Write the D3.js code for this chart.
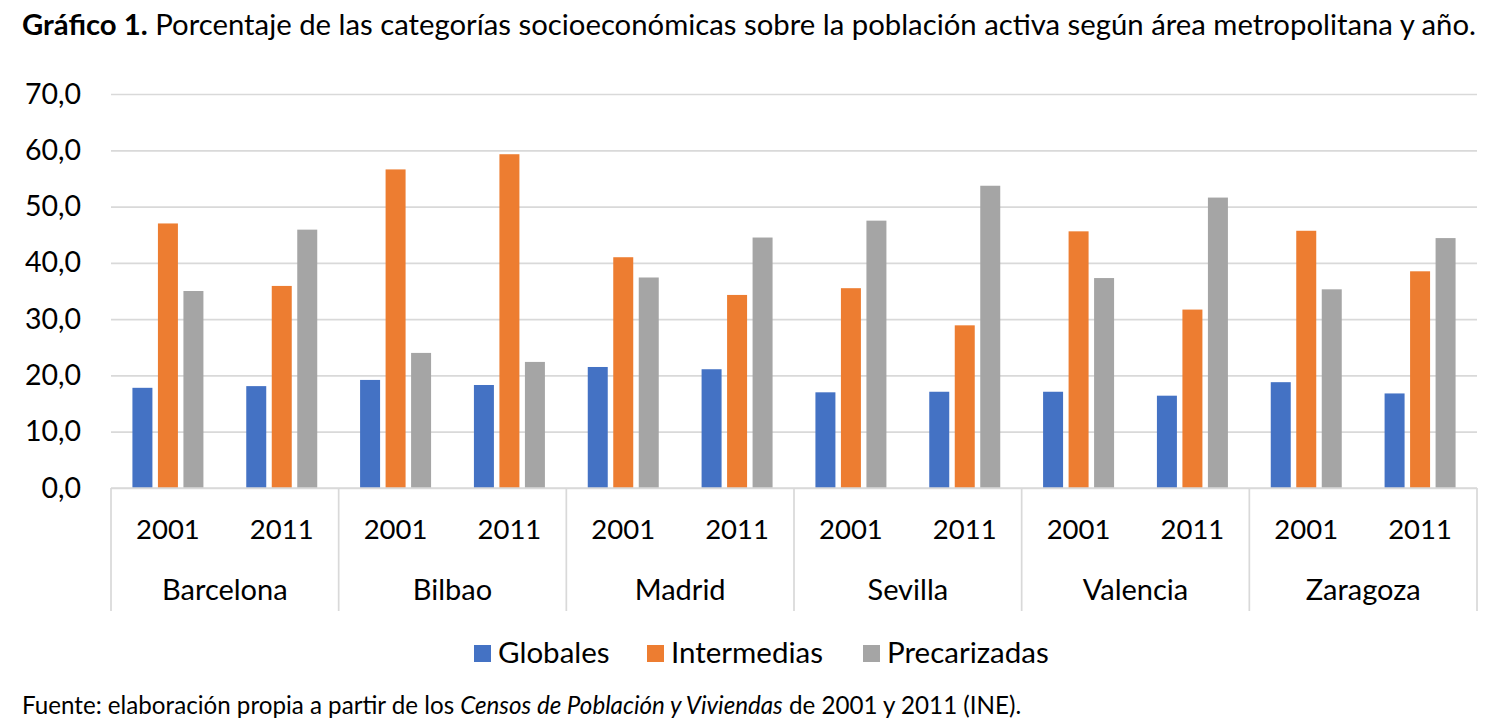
<!DOCTYPE html>
<html>
<head>
<meta charset="utf-8">
<script src="https://cdn.jsdelivr.net/npm/d3@7"></script>
<style>
  body { margin: 0; background: #fff; }
  svg { display: block; font-family: Lato, "Open Sans", sans-serif; }
  .grid line { stroke: #d9d9d9; stroke-width: 1.7; }
  .grid text { fill: #000; font-size: 28.5px; font-family: Lato, "Open Sans", sans-serif; }
  .cat text { fill: #000; }
  .cat .year { font-size: 27.5px; }
  .cat .city { font-size: 29px; }
</style>
</head>
<body>
<script>
var w = 1499;
var h = 728;

var cities = ["Barcelona", "Bilbao", "Madrid", "Sevilla", "Valencia", "Zaragoza"];
var years = ["2001", "2011"];
var series = ["Globales", "Intermedias", "Precarizadas"];
var colors = ["#4472c4", "#ed7d31", "#a5a5a5"];
var yTicks = [0, 10, 20, 30, 40, 50, 60, 70];

// one entry per city, 2001 then 2011
var globales     = [[17.8, 18.1], [19.2, 18.3], [21.5, 21.1], [17.0, 17.1], [17.1, 16.4], [18.8, 16.8]];
var intermedias  = [[47.0, 35.9], [56.6, 59.3], [41.0, 34.3], [35.5, 28.9], [45.6, 31.7], [45.7, 38.5]];
var precarizadas = [[35.0, 45.9], [24.0, 22.4], [37.4, 44.5], [47.5, 53.7], [37.3, 51.6], [35.3, 44.4]];

var values = [globales, intermedias, precarizadas];

var plotLeft = 111, plotRight = 1477, plotTop = 94, plotBottom = 488;

var svg = d3.select("body")
  .append("svg")
  .attr("width", w)
  .attr("height", h);

function fit(sel, target) {
  var len = sel.node().getComputedTextLength();
  var size = parseFloat(sel.style("font-size"));
  sel.style("font-size", (size * target / len) + "px");
}

// title
var title = svg.append("text")
  .attr("x", 22)
  .attr("y", 35)
  .attr("fill", "#000")
  .style("font-size", "24px");
title.append("tspan").attr("font-weight", "bold").text("Gráfico 1.");
title.append("tspan").text(" Porcentaje de las categorías socioeconómicas sobre la población activa según área metropolitana y año.");
fit(title, 1455);

var xCity = d3.scaleBand()
  .domain(cities)
  .range([plotLeft, plotRight]);

var xYear = d3.scaleBand()
  .domain(years)
  .range([0, xCity.bandwidth()]);

var xSeries = d3.scaleBand()
  .domain(series)
  .range([0, xYear.bandwidth()])
  .paddingInner(0.216)
  .paddingOuter(0.84);

var yScale = d3.scaleLinear()
  .domain([0, 70])
  .range([plotBottom, plotTop]);

var yAxis = d3.axisLeft(yScale)
  .tickValues(yTicks)
  .tickSize(-(plotRight - plotLeft))
  .tickPadding(30)
  .tickFormat(function(d) { return d.toFixed(1).replace(".", ","); });

svg.append("g")
  .attr("class", "grid")
  .attr("transform", "translate(" + plotLeft + ",0)")
  .call(yAxis)
  .call(function(g) { g.select(".domain").remove(); });

// bars
var rows = [];
cities.forEach(function(c, ci) {
  years.forEach(function(y, yi) {
    series.forEach(function(s, si) {
      rows.push({ city: c, year: y, series: s, si: si, value: values[si][ci][yi] });
    });
  });
});

svg.append("g")
  .selectAll("rect")
  .data(rows)
  .enter()
  .append("rect")
  .attr("x", function(d) {
    return xCity(d.city) + xYear(d.year) + xSeries(d.series);
  })
  .attr("y", function(d) { return yScale(d.value); })
  .attr("width", xSeries.bandwidth())
  .attr("height", function(d) { return yScale(0) - yScale(d.value); })
  .attr("fill", function(d) { return colors[d.si]; });

// category axis: base line, city separators, year and city labels
var cat = svg.append("g").attr("class", "cat");

cat.append("line")
  .attr("x1", plotLeft).attr("x2", plotRight)
  .attr("y1", plotBottom).attr("y2", plotBottom)
  .attr("stroke", "#d9d9d9")
  .attr("stroke-width", 1.7);

var seps = cities.map(function(c) { return xCity(c); }).concat([xCity.range()[1]]);
cat.selectAll(".sep")
  .data(seps)
  .enter()
  .append("line")
  .attr("class", "sep")
  .attr("x1", function(d) { return d; })
  .attr("x2", function(d) { return d; })
  .attr("y1", plotBottom)
  .attr("y2", 611)
  .attr("stroke", "#d9d9d9")
  .attr("stroke-width", 1.7);

var yearRows = [];
cities.forEach(function(c) {
  years.forEach(function(y) { yearRows.push({ city: c, year: y }); });
});

cat.selectAll(".year")
  .data(yearRows)
  .enter()
  .append("text")
  .attr("class", "year")
  .attr("x", function(d) { return xCity(d.city) + xYear(d.year) + xYear.bandwidth() / 2; })
  .attr("y", 539)
  .attr("text-anchor", "middle")
  .text(function(d) { return d.year; });

cat.selectAll(".city")
  .data(cities)
  .enter()
  .append("text")
  .attr("class", "city")
  .attr("x", function(d) { return xCity(d) + xCity.bandwidth() / 2; })
  .attr("y", 600)
  .attr("text-anchor", "middle")
  .text(function(d) { return d; });

// legend
var legendX = [474, 647, 863];
var legend = svg.append("g");
series.forEach(function(s, i) {
  legend.append("rect")
    .attr("x", legendX[i]).attr("y", 645)
    .attr("width", 17).attr("height", 17)
    .attr("fill", colors[i]);
  legend.append("text")
    .attr("x", legendX[i] + 24)
    .attr("y", 663)
    .attr("fill", "#000")
    .style("font-size", "29.5px")
    .text(s);
});

// source note
var note = svg.append("text")
  .attr("x", 22)
  .attr("y", 714)
  .attr("fill", "#000")
  .style("font-size", "20px");
note.append("tspan").text("Fuente: elaboración propia a partir de los ");
note.append("tspan").attr("font-style", "italic").text("Censos de Población y Viviendas");
note.append("tspan").text(" de 2001 y 2011 (INE).");
fit(note, 1000);
</script>
</body>
</html>
